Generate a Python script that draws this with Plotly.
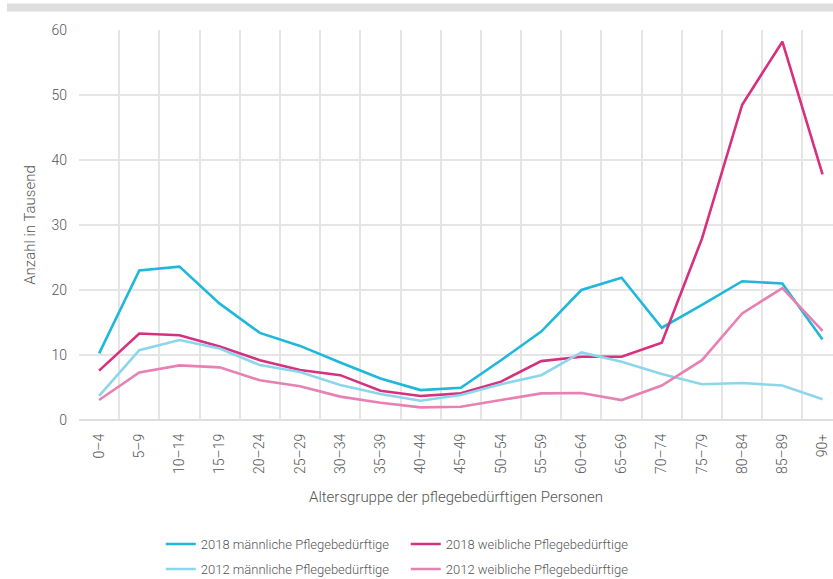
import plotly.graph_objects as go

categories = ["0–4", "5–9", "10–14", "15–19", "20–24", "25–29", "30–34", "35–39",
              "40–44", "45–49", "50–54", "55–59", "60–64", "65–69", "70–74",
              "75–79", "80–84", "85–89", "90+"]

m2018 = [10.25, 23.0, 23.6, 17.9, 13.4, 11.4, 8.85, 6.4, 4.6, 4.97, 9.2, 13.6,
         20.0, 21.9, 14.2, 17.7, 21.35, 21.0, 12.4]
w2018 = [7.6, 13.3, 13.05, 11.3, 9.2, 7.7, 6.9, 4.5, 3.7, 4.1, 5.9, 9.06,
         9.73, 9.73, 11.9, 27.9, 48.5, 58.2, 37.8]
m2012 = [3.7, 10.75, 12.3, 11.0, 8.45, 7.4, 5.4, 4.0, 2.97, 3.84, 5.5, 6.9,
         10.4, 8.97, 7.07, 5.5, 5.7, 5.3, 3.2]
w2012 = [3.07, 7.3, 8.4, 8.1, 6.1, 5.2, 3.6, 2.66, 1.95, 2.05, 3.07, 4.1,
         4.15, 3.07, 5.3, 9.2, 16.4, 20.3, 13.7]

series = [
    ("2018 männliche Pflegebedürftige", m2018, "#1fb7da", "legend"),
    ("2018 weibliche Pflegebedürftige", w2018, "#d6307f", "legend"),
    ("2012 männliche Pflegebedürftige", m2012, "#8cd6ec", "legend2"),
    ("2012 weibliche Pflegebedürftige", w2012, "#e681b2", "legend2"),
]

FONT = "Roboto"
TXT = "#555555"
W, H = 833, 579

fig = go.Figure()
for name, vals, col, lg in series:
    fig.add_trace(go.Scatter(x=categories, y=vals, name=name, mode="lines",
                             legend=lg, line=dict(color=col, width=2.6)))

leg_common = dict(orientation="h", xref="container", yref="container",
                  x=0.193, xanchor="left", yanchor="middle",
                  entrywidth=200, entrywidthmode="pixels",
                  font=dict(size=13, color=TXT, weight=300),
                  traceorder="normal", bgcolor="rgba(0,0,0,0)")

fig.update_layout(
    width=W, height=H,
    margin=dict(l=79, r=0, t=29.5, b=159),
    paper_bgcolor="white", plot_bgcolor="white",
    font=dict(family=FONT, color=TXT, size=13, weight=300),
    showlegend=True,
    legend=dict(leg_common, y=1 - 544 / H),
    legend2=dict(leg_common, y=1 - 569 / H),
    xaxis=dict(type="category", range=[-0.5, 18.26], tickson="boundaries",
               showgrid=True, gridcolor="#e5e5e5", gridwidth=1.5,
               ticks="", tickangle=-90,
               tickfont=dict(size=14, color=TXT, weight=300),
               ticklabelstandoff=10,
               showline=False, zeroline=False,
               title=dict(text="Altersgruppe der pflegebedürftigen Personen",
                          font=dict(size=15, color=TXT, weight=300), standoff=18)),
    yaxis=dict(range=[0, 60], dtick=10, showgrid=True, gridcolor="#e5e5e5",
               gridwidth=1.5, zeroline=True, zerolinecolor="#dedede", zerolinewidth=2,
               ticks="", ticklabelstandoff=11,
               tickfont=dict(size=14, color=TXT, weight=300),
               title=dict(text="Anzahl in Tausend",
                          font=dict(size=15, color=TXT, weight=300), standoff=12)),
    shapes=[dict(type="rect", xref="paper", yref="paper",
                 x0=(7 - 79) / 754, x1=1.0, y0=(420 - 11) / 390.5, y1=(420 - 3) / 390.5,
                 fillcolor="#dedede", line=dict(width=0), layer="above")],
)

fig.write_html("out.html", config={"displayModeBar": False},
               post_script="document.body.style.margin='0';document.body.style.overflow='hidden';")
